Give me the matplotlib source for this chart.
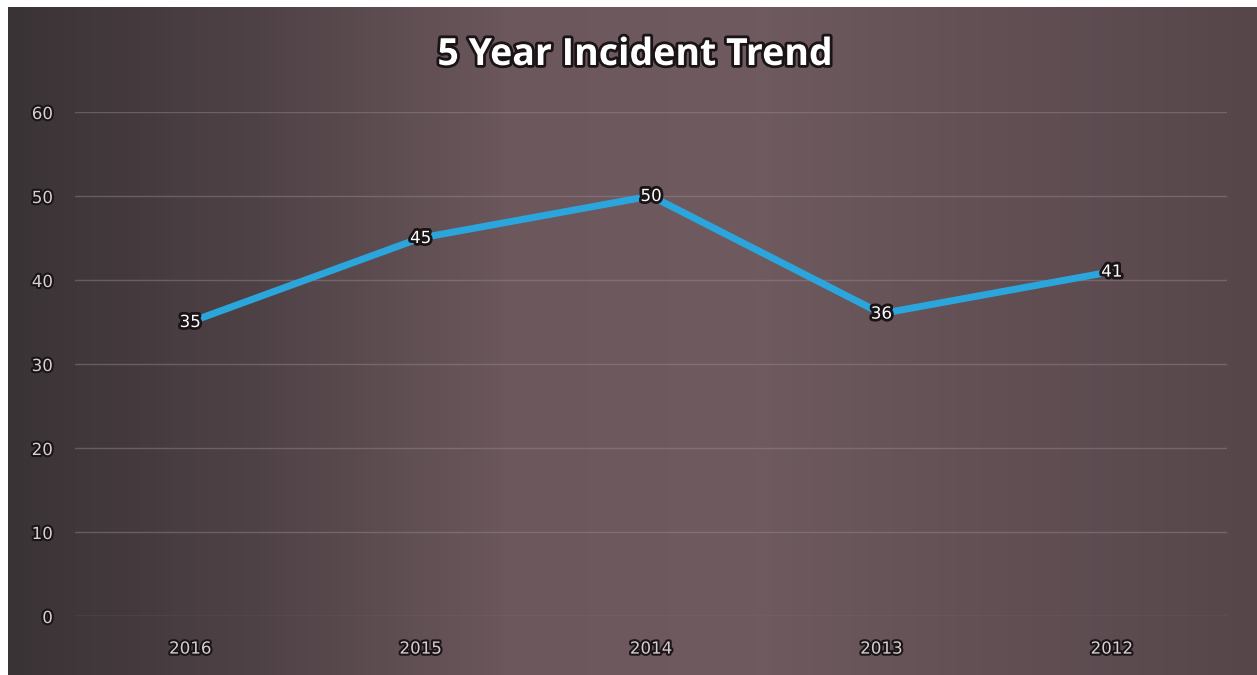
import matplotlib.pyplot as plt
import matplotlib.patheffects as pe
import numpy as np
from matplotlib.colors import LinearSegmentedColormap

years = ["2016", "2015", "2014", "2013", "2012"]
incidents = [35, 45, 50, 36, 41]
y_ticks = [0, 10, 20, 30, 40, 50, 60]

W, H = 1257, 675
fig = plt.figure(figsize=(W / 100, H / 100), dpi=100)
fig.patch.set_facecolor("white")

# gradient background panel
bg = fig.add_axes([8 / W, 0, 1 - 8 / W, 1 - 7 / H])
bg_cmap = LinearSegmentedColormap.from_list(
    "bg", ["#3a3336", "#4f4246", "#6b575c", "#6e5a5f", "#614f54", "#56464a"]
)
grad = np.linspace(0, 1, 400).reshape(1, -1)
bg.imshow(grad, aspect="auto", cmap=bg_cmap, extent=[0, 1, 0, 1])
bg.set_axis_off()

ax = fig.add_axes([75 / W, 1 - 616 / H, 1152 / W, 504 / H])
ax.patch.set_alpha(0)
x = np.arange(len(years))
ax.set_xlim(-0.5, len(years) - 0.5)
ax.set_ylim(0, 60)

shadow = [pe.withStroke(linewidth=3, foreground="#1a1416")]

for t in y_ticks:
    ax.axhline(t, color="#9a8a8e", lw=1, alpha=0.45, zorder=1)

ax.plot(x, incidents, color="#2aa6dd", lw=5, solid_capstyle="butt", zorder=3)

for xi, v in zip(x, incidents):
    ax.text(xi, v, str(v), ha="center", va="center", fontsize=12,
            color="white", family="DejaVu Sans", zorder=4,
            path_effects=[pe.withStroke(linewidth=4, foreground="#1a1416")])

for s in ax.spines.values():
    s.set_visible(False)
ax.set_xticks(x)
ax.set_xticklabels(years)
ax.set_yticks(y_ticks)
ax.tick_params(length=0, colors="#d6cfd1", labelsize=12)
ax.tick_params(axis="x", pad=17)
ax.tick_params(axis="y", pad=16)
for lab in ax.get_xticklabels() + ax.get_yticklabels():
    lab.set_path_effects(shadow)

fig.text(635 / W, 1 - 55 / H, "5 Year Incident Trend", ha="center", va="center",
         fontsize=27, fontweight="bold", color="white", family="Open Sans",
         path_effects=[pe.withStroke(linewidth=4, foreground="#1a1416")])

fig.savefig("out.png", dpi=100, facecolor=fig.get_facecolor())
